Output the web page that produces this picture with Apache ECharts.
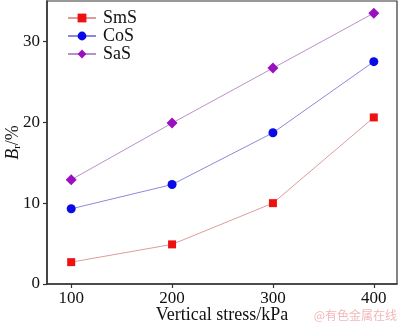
<!DOCTYPE html>
<html><head><meta charset="utf-8">
<script src="https://cdn.jsdelivr.net/npm/echarts@6/dist/echarts.min.js"></script>
<style>html,body{margin:0;padding:0;background:#fff}#c{width:400px;height:324px}</style>
</head><body><div id="c"></div>
<script>
const xStress = [100, 200, 300, 400];
const smsValues = [2.7, 4.9, 10.0, 20.6];
const cosValues = [9.3, 12.3, 18.7, 27.5];
const sasValues = [12.9, 19.9, 26.7, 33.5];
const xTicks = [100, 200, 300, 400];
const yTicks = [0, 10, 20, 30];
const seriesNames = ['SmS', 'CoS', 'SaS'];

const font = 'Liberation Serif, Times New Roman, serif';
const chart = echarts.init(document.getElementById('c'), null, {renderer: 'canvas'});
const pairs = v => xStress.map((x, i) => [x, v[i]]);
chart.setOption({
  animation: false,
  grid: {left: 47, right: 3, top: 1, bottom: 40, containLabel: false, outerBoundsMode: 'none',
         show: true, borderColor: '#333', borderWidth: 1.2, backgroundColor: 'transparent'},
  legend: {
    left: 62, top: 4, orient: 'vertical', itemWidth: 28, itemHeight: 11, itemGap: 0,
    textStyle: {fontFamily: font, fontSize: 18, lineHeight: 17.5, color: '#111', padding: [0, 0, 0, 2]},
    data: seriesNames
  },
  xAxis: {
    type: 'value', min: 76, max: 423,
    name: 'Vertical stress/kPa', nameLocation: 'middle', nameGap: 22, nameMoveOverlap: false,
    nameTextStyle: {fontFamily: font, fontSize: 18, color: '#111'},
    axisLine: {lineStyle: {color: '#333', width: 1.5}},
    axisTick: {customValues: xTicks, length: 4, inside: false, lineStyle: {color: '#333', width: 1.2}},
    axisLabel: {customValues: xTicks, fontFamily: font, fontSize: 17, color: '#111', margin: 6},
    splitLine: {show: false}
  },
  yAxis: {
    type: 'value', min: 0, max: 35,
    name: '{i|B}{s|r}{n|/%}', nameLocation: 'middle', nameGap: 24, nameRotate: 90, nameMoveOverlap: false,
    nameTextStyle: {
      fontFamily: font, fontSize: 18, color: '#111',
      rich: {
        i: {fontFamily: font, fontSize: 18, fontStyle: 'italic', color: '#111'},
        s: {fontFamily: font, fontSize: 11, color: '#111', padding: [8, 0, 0, 0]},
        n: {fontFamily: font, fontSize: 18, color: '#111'}
      }
    },
    axisLine: {lineStyle: {color: '#333', width: 1.5}},
    axisTick: {customValues: yTicks, length: 4, lineStyle: {color: '#333', width: 1.2}},
    axisLabel: {customValues: yTicks, fontFamily: font, fontSize: 17, color: '#111', margin: 7},
    splitLine: {show: false}
  },
  series: [
    {name: seriesNames[0], type: 'line', data: pairs(smsValues), symbol: 'rect', symbolSize: 8,
     lineStyle: {color: '#e09a9a', width: 1}, itemStyle: {color: '#ee1111'}},
    {name: seriesNames[1], type: 'line', data: pairs(cosValues), symbol: 'circle', symbolSize: 9,
     lineStyle: {color: '#8a8ad8', width: 1}, itemStyle: {color: '#0a0ae8'}},
    {name: seriesNames[2], type: 'line', data: pairs(sasValues), symbol: 'diamond', symbolSize: 11,
     lineStyle: {color: '#bb90c8', width: 1}, itemStyle: {color: '#9a10c0'}}
  ],
  graphic: [{
    type: 'text', right: 3, bottom: 3,
    style: {text: '@有色金属在线', fontFamily: 'Noto Sans CJK SC', fontSize: 12, fill: '#f2b8b8'}
  }]
});
</script></body></html>
